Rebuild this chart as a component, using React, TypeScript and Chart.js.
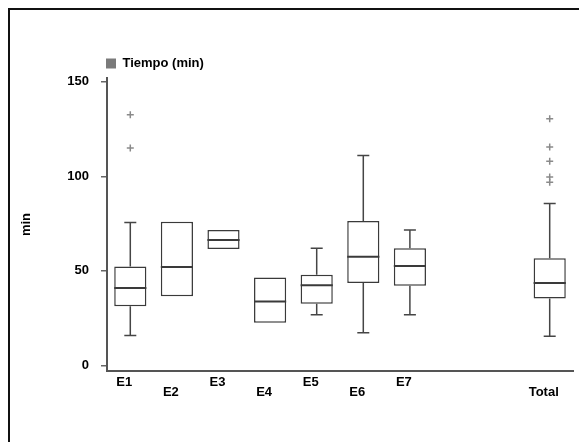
import React, { useEffect, useRef } from "react";
import { Chart, registerables } from "chart.js";

Chart.register(...registerables);

const categories = ["E1", "E2", "E3", "E4", "E5", "E6", "E7", "", "", "Total"];
const q1 = [31.2, 36.5, 61.6, 22.5, 32.6, 43.5, 42.1, null, null, 35.3];
const median = [40.9, 52, 66.3, 33.8, 42.3, 57.5, 52.6, null, null, 43.5];
const q3 = [52.3, 76, 71.6, 46.5, 47.9, 76.3, 61.9, null, null, 56.7];
const whiskerLow = [15.8, 36.5, 61.6, 22.5, 26.8, 17.2, 26.8, null, null, 15.4];
const whiskerHigh = [75.6, 76, 71.6, 46.5, 61.9, 111, 71.6, null, null, 85.6];
const outlierCategory = ["E1", "E1", "Total", "Total", "Total", "Total", "Total"];
const outlierValue = [132.6, 115, 130.5, 115.5, 108, 99.6, 96.8];
const yTickValues = [0, 50, 100, 150];
const seriesLabel = "Tiempo (min)";
const yTitle = "min";

const FONT = "'Liberation Sans', Arial, sans-serif";

const boxPlugin = {
  id: "boxExtras",
  beforeDraw(chart: any) {
    const lg = chart.legend;
    if (lg) {
      lg.left = chart.chartArea.left - 1;
      lg.top = 47;
    }
  },
  afterDatasetsDraw(chart: any) {
    const ctx = chart.ctx;
    const meta = chart.getDatasetMeta(0);
    const y = chart.scales.y;
    ctx.save();
    for (let i = 0; i < categories.length; i++) {
      const el = meta.data[i];
      if (!el || median[i] == null) continue;
      const x = el.x;
      const w = el.width;
      const pMed = y.getPixelForValue(median[i]);
      const pQ1 = y.getPixelForValue(q1[i]);
      const pQ3 = y.getPixelForValue(q3[i]);
      const pLo = y.getPixelForValue(whiskerLow[i]);
      const pHi = y.getPixelForValue(whiskerHigh[i]);
      ctx.strokeStyle = "#3a3a3a";
      ctx.lineWidth = 2;
      ctx.beginPath();
      ctx.moveTo(x - w / 2, pMed);
      ctx.lineTo(x + w / 2, pMed);
      ctx.stroke();
      ctx.lineWidth = 1.5;
      ctx.strokeStyle = "#454545";
      const cap = 12;
      if ((whiskerHigh[i] as number) > (q3[i] as number)) {
        ctx.beginPath();
        ctx.moveTo(x, pQ3);
        ctx.lineTo(x, pHi);
        ctx.moveTo(x - cap / 2, pHi);
        ctx.lineTo(x + cap / 2, pHi);
        ctx.stroke();
      }
      if ((whiskerLow[i] as number) < (q1[i] as number)) {
        ctx.beginPath();
        ctx.moveTo(x, pQ1);
        ctx.lineTo(x, pLo);
        ctx.moveTo(x - cap / 2, pLo);
        ctx.lineTo(x + cap / 2, pLo);
        ctx.stroke();
      }
    }
    ctx.restore();
  },
};

export default function App() {
  const ref = useRef<HTMLCanvasElement>(null);
  useEffect(() => {
    Chart.defaults.font.family = FONT;
    const chart = new Chart(ref.current as HTMLCanvasElement, {
      type: "bar",
      data: {
        labels: categories,
        datasets: [
          {
            type: "bar",
            label: seriesLabel,
            data: categories.map((_, i) => (q1[i] == null ? null : [q1[i], q3[i]])) as any,
            backgroundColor: "#ffffff",
            borderColor: "#3a3a3a",
            borderWidth: 1.5,
            borderSkipped: false,
            barPercentage: 0.69,
            categoryPercentage: 1,
          },
          {
            type: "scatter",
            label: "outliers",
            data: outlierCategory.map((c, i) => ({ x: c, y: outlierValue[i] })) as any,
            pointStyle: "cross",
            radius: 3.5,
            borderColor: "#8a8a8a",
            borderWidth: 1.5,
            backgroundColor: "#8a8a8a",
          } as any,
        ],
      },
      options: {
        responsive: false,
        animation: false,
        events: [],
        layout: { padding: { top: 45, right: 6, left: 0, bottom: 0 } },
        plugins: {
          tooltip: { enabled: false },
          legend: {
            display: true,
            position: "top",
            align: "start",
            fullSize: false,
            labels: {
              boxWidth: 10,
              boxHeight: 10,
              padding: 0,
              color: "#000",
              font: { size: 13, weight: "bold", family: FONT },
              generateLabels: (ch: any) => [
                {
                  text: ch.data.datasets[0].label,
                  fillStyle: "#7a7a7a",
                  strokeStyle: "#7a7a7a",
                  lineWidth: 0,
                  hidden: false,
                  datasetIndex: 0,
                  fontColor: "#000",
                },
              ],
            },
          },
        },
        scales: {
          x: {
            type: "category",
            offset: true,
            grid: { display: false, drawTicks: false },
            border: { display: true, color: "#555", width: 2 },
            ticks: {
              padding: 4,
              labelOffset: -6,
              autoSkip: false,
              maxRotation: 0,
              color: "#000",
              font: (c: any) => ({
                size: 13,
                weight: "bold",
                family: FONT,
                lineHeight: c.index % 2 === 0 ? 1.2 : "34px",
              }),
            },
            afterFit: (s: any) => {
              s.height = 71;
            },
          },
          y: {
            type: "linear",
            min: -3,
            max: 152,
            afterBuildTicks: (s: any) => {
              s.ticks = yTickValues.map((v) => ({ value: v }));
            },
            grid: {
              display: true,
              drawOnChartArea: false,
              drawTicks: true,
              tickLength: 6,
              color: "#666",
              lineWidth: 1.5,
            },
            border: { display: true, color: "#555", width: 2 },
            ticks: {
              padding: 12,
              color: "#000",
              font: { size: 13, weight: "bold", family: FONT },
            },
            title: {
              display: true,
              text: yTitle,
              color: "#000",
              font: { size: 13, weight: "bold", family: FONT },
              padding: { top: 9, bottom: 0 },
            },
            afterFit: (s: any) => {
              s.width = 97;
            },
          },
        },
      },
      plugins: [boxPlugin],
    });
    return () => chart.destroy();
  }, []);
  return (
    <div
      style={{
        position: "fixed",
        left: 0,
        top: 0,
        width: 579,
        height: 442,
        overflow: "hidden",
        background: "#fff",
      }}
    >
      <div
        style={{
          position: "absolute",
          left: 8,
          top: 8,
          width: 620,
          height: 480,
          borderLeft: "2px solid #111",
          borderTop: "2px solid #111",
        }}
      />
      <div style={{ position: "absolute", left: 10, top: 10 }}>
        <canvas ref={ref} width={569} height={432} />
      </div>
    </div>
  );
}
